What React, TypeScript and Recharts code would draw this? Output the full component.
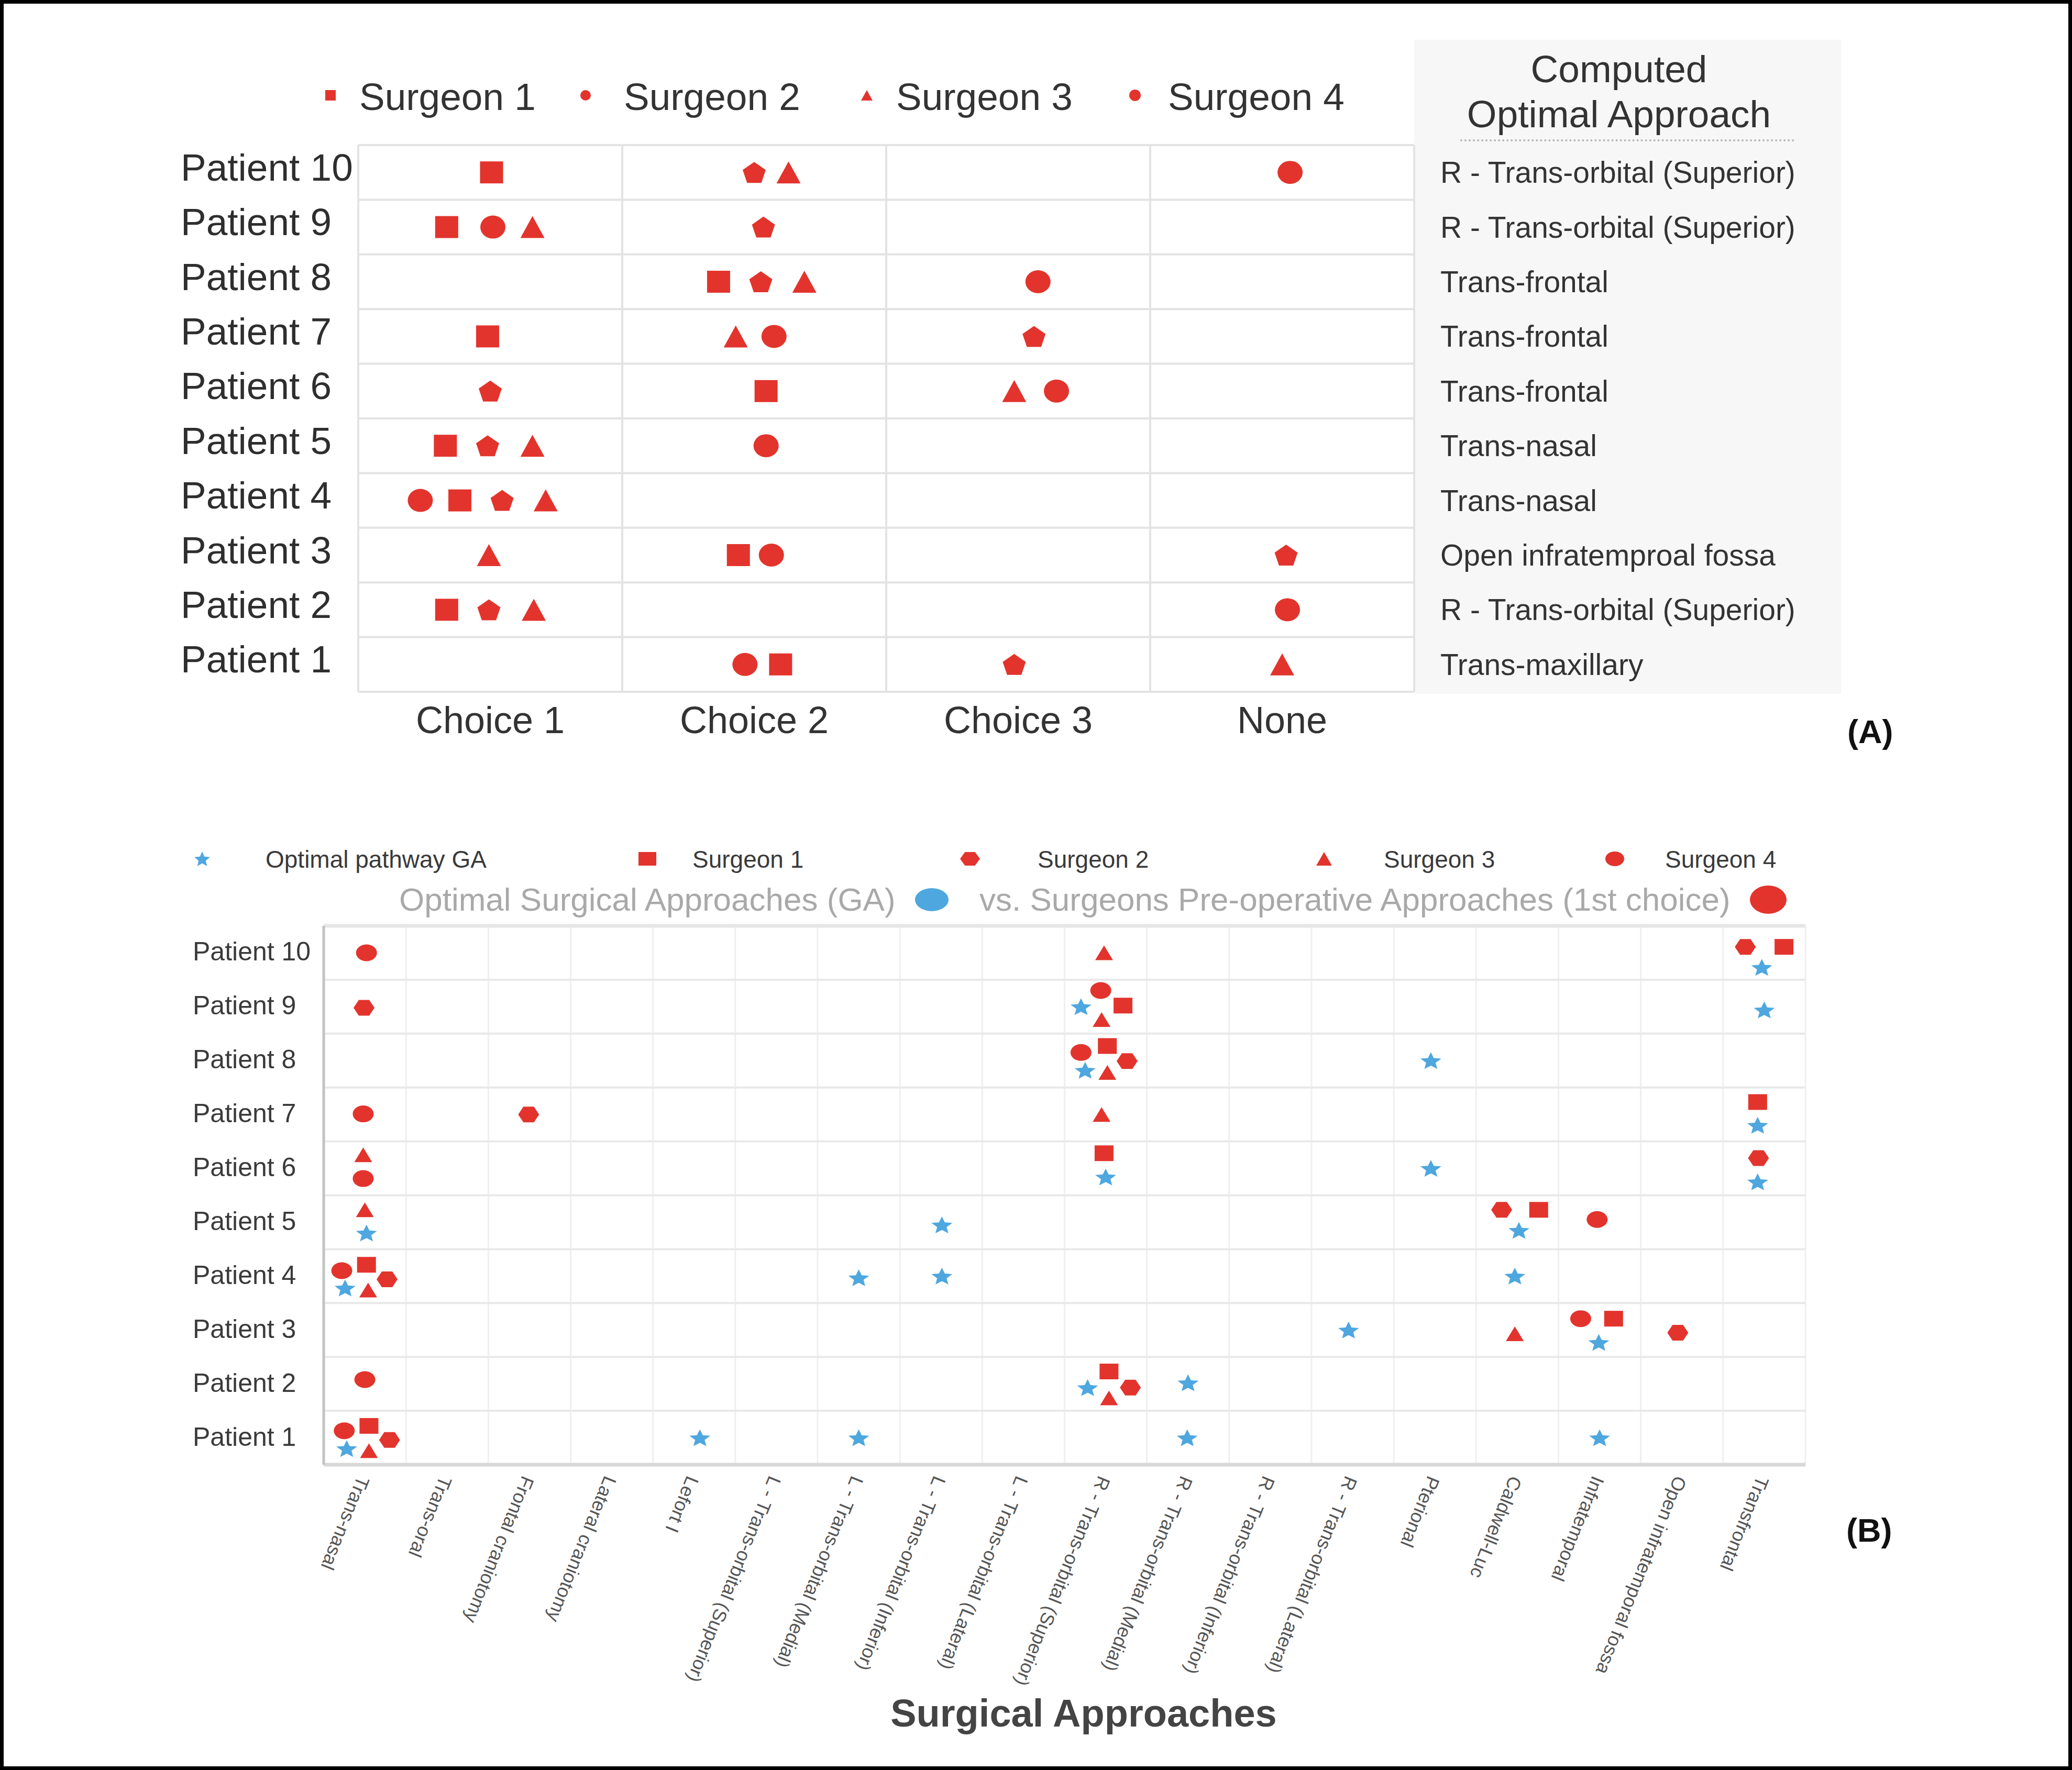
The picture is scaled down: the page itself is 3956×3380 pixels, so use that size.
import React from 'react';
import { ScatterChart, Scatter, XAxis, YAxis, ReferenceLine } from 'recharts';

const FONT = "'Liberation Sans', Arial, Helvetica, sans-serif";
const RED = '#e2342d';
const BLUE = '#4ea7df';

// ---------- Panel A data ----------
const PATIENTS = [1, 2, 3, 4, 5, 6, 7, 8, 9, 10];
const CHOICES = ['Choice 1', 'Choice 2', 'Choice 3', 'None'];
const OPTIMAL_APPROACH = [
  'Trans-maxillary',
  'R - Trans-orbital (Superior)',
  'Open infratemproal fossa',
  'Trans-nasal',
  'Trans-nasal',
  'Trans-frontal',
  'Trans-frontal',
  'Trans-frontal',
  'R - Trans-orbital (Superior)',
  'R - Trans-orbital (Superior)',
];
const SURGEONS = ['Surgeon 1', 'Surgeon 2', 'Surgeon 3', 'Surgeon 4'];

// choice index (0 = Choice 1 ... 3 = None) per patient 1..10, and the jitter inside the cell
const A_CHOICE_S1 = [1, 0, 1, 0, 0, 1, 0, 1, 0, 0];
const A_JITTER_S1 = [0.1, -0.165, -0.06, -0.115, -0.17, 0.045, -0.01, -0.135, -0.165, 0.005];
const A_CHOICE_S2 = [2, 0, 3, 0, 0, 0, 2, 1, 1, 1];
const A_JITTER_S2 = [-0.015, -0.005, 0.015, 0.045, -0.01, 0, 0.06, 0.025, 0.035, 0];
const A_CHOICE_S3 = [3, 0, 0, 0, 0, 2, 1, 1, 0, 1];
const A_JITTER_S3 = [0, 0.165, -0.005, 0.21, 0.16, -0.015, -0.07, 0.19, 0.16, 0.13];
const A_CHOICE_S4 = [1, 3, 1, 0, 1, 2, 1, 2, 0, 3];
const A_JITTER_S4 = [-0.035, 0.02, 0.065, -0.265, 0.045, 0.145, 0.075, 0.075, 0.01, 0.03];

// ---------- Panel B data ----------
const APPROACHES = [
  'Trans-nasal',
  'Trans-oral',
  'Frontal craniotomy',
  'Lateral craniotomy',
  'Lefort I',
  'L - Trans-orbital (Superior)',
  'L - Trans-orbital (Medial)',
  'L - Trans-orbital (Inferior)',
  'L - Trans-orbital (Lateral)',
  'R - Trans-orbital (Superior)',
  'R - Trans-orbital (Medial)',
  'R - Trans-orbital (Inferior)',
  'R - Trans-orbital (Lateral)',
  'Pterional',
  'Caldwell-Luc',
  'Infratemporal',
  'Open infratemporal fossa',
  'Transfrontal',
];

// GA optimal pathways: [patient, approach index, dx, dy]
const GA_POINTS: [number, number, number, number][] = [
  [10, 17, -0.03, -0.27],
  [9, 9, -0.3, 0], [9, 17, 0, -0.06],
  [8, 9, -0.25, -0.18], [8, 13, -0.05, 0],
  [7, 17, -0.08, -0.2],
  [6, 9, 0, -0.16], [6, 13, -0.05, 0], [6, 17, -0.08, -0.25],
  [5, 0, 0.02, -0.2], [5, 7, 0.01, -0.05], [5, 14, 0.02, -0.15],
  [4, 0, -0.24, -0.22], [4, 6, 0, -0.03], [4, 7, 0.01, 0], [4, 14, -0.03, 0],
  [3, 12, -0.05, 0], [3, 15, -0.01, -0.23],
  [2, 9, -0.22, -0.07], [2, 10, 0, 0.02],
  [1, 0, -0.22, -0.2], [1, 4, 0.07, 0], [1, 6, 0, 0], [1, 10, -0.01, 0], [1, 15, 0, 0],
];

// surgeons' 1st choice approach per patient 1..10 with [dx, dy] jitter
const B_APPROACH_S1 = [0, 9, 15, 0, 14, 9, 17, 9, 9, 17];
const B_JITTER_S1 = [[0.05, 0.22], [0.04, 0.23], [0.17, 0.21], [0.02, 0.21], [0.26, 0.23], [-0.02, 0.28], [-0.08, 0.23], [0.02, 0.27], [0.21, 0.02], [0.24, 0.11]];
const B_APPROACH_S2 = [0, 9, 16, 0, 14, 17, 2, 9, 0, 17];
const B_JITTER_S2 = [[0.3, -0.04], [0.3, -0.07], [-0.05, -0.05], [0.27, -0.06], [-0.19, 0.23], [-0.07, 0.19], [-0.01, 0], [0.26, -0.01], [-0.01, -0.02], [-0.23, 0.11]];
const B_APPROACH_S3 = [0, 9, 14, 0, 0, 0, 9, 9, 9, 9];
const B_JITTER_S3 = [[0.05, -0.24], [0.04, -0.26], [-0.03, -0.07], [0.04, -0.26], [0, 0.23], [-0.02, 0.25], [-0.05, 0], [0.02, -0.22], [-0.05, -0.24], [-0.02, 0]];
const B_APPROACH_S4 = [0, 0, 15, 0, 15, 0, 0, 9, 9, 0];
const B_JITTER_S4 = [[-0.25, 0.13], [0, 0.08], [-0.23, 0.21], [-0.28, 0.1], [-0.03, 0.05], [-0.02, -0.19], [-0.02, 0.01], [-0.3, 0.15], [-0.06, 0.3], [0.02, 0]];

type Kind = 'square' | 'circle' | 'triangle' | 'pentagon' | 'hexagon' | 'star';

function polyPoints(kind: Kind, cx: number, cy: number, rx: number, ry: number) {
  const pts: string[] = [];
  if (kind === 'hexagon') {
    for (let i = 0; i < 6; i++) {
      const a = (i * Math.PI) / 3;
      pts.push(`${cx + rx * Math.cos(a)},${cy + (ry * Math.sin(a)) / 0.866}`);
    }
  } else {
    const n = kind === 'star' ? 10 : 5;
    for (let i = 0; i < n; i++) {
      const a = -Math.PI / 2 + (i * 2 * Math.PI) / n;
      const r = kind === 'star' && i % 2 === 1 ? 0.45 : 1;
      pts.push(`${cx + (rx * r * Math.cos(a)) / 0.951},${cy + (ry * (r * Math.sin(a) + 0.0955)) / 0.9045}`);
    }
  }
  return pts.join(' ');
}

function Mark({ kind, cx, cy, w, h, fill }: { kind: Kind; cx?: number; cy?: number; w: number; h: number; fill: string }) {
  if (cx == null || cy == null) return null;
  const rx = w / 2;
  const ry = h / 2;
  if (kind === 'square') return <rect x={cx - rx} y={cy - ry} width={w} height={h} fill={fill} />;
  if (kind === 'circle') return <ellipse cx={cx} cy={cy} rx={rx} ry={ry} fill={fill} />;
  if (kind === 'triangle')
    return <polygon points={`${cx},${cy - ry} ${cx + rx},${cy + ry} ${cx - rx},${cy + ry}`} fill={fill} />;
  return <polygon points={polyPoints(kind, cx, cy, rx, ry)} fill={fill} />;
}

function Symbol({ kind, x, y, w, h, fill }: { kind: Kind; x: number; y: number; w: number; h: number; fill: string }) {
  return (
    <svg
      width={w + 4}
      height={h + 4}
      style={{ position: 'absolute', left: x - w / 2 - 2, top: y - h / 2 - 2, overflow: 'visible' }}
    >
      <Mark kind={kind} cx={w / 2 + 2} cy={h / 2 + 2} w={w} h={h} fill={fill} />
    </svg>
  );
}

function Label({ x, y, size, color = '#333', weight = 400, children, center = false }: any) {
  return (
    <div
      style={{
        position: 'absolute',
        left: x,
        top: y,
        transform: center ? 'translate(-50%, -50%)' : 'translateY(-50%)',
        fontSize: size,
        lineHeight: 1,
        color,
        fontWeight: weight,
        whiteSpace: 'nowrap',
        fontFamily: FONT,
      }}
    >
      {children}
    </div>
  );
}

const A_SERIES = [
  { name: SURGEONS[0], kind: 'square' as Kind, choice: A_CHOICE_S1, jitter: A_JITTER_S1, w: 44, h: 42 },
  { name: SURGEONS[1], kind: 'pentagon' as Kind, choice: A_CHOICE_S2, jitter: A_JITTER_S2, w: 44, h: 40 },
  { name: SURGEONS[2], kind: 'triangle' as Kind, choice: A_CHOICE_S3, jitter: A_JITTER_S3, w: 46, h: 42 },
  { name: SURGEONS[3], kind: 'circle' as Kind, choice: A_CHOICE_S4, jitter: A_JITTER_S4, w: 48, h: 44 },
];

const B_SERIES = [
  { name: SURGEONS[0], kind: 'square' as Kind, approach: B_APPROACH_S1, jitter: B_JITTER_S1, w: 36, h: 30 },
  { name: SURGEONS[1], kind: 'hexagon' as Kind, approach: B_APPROACH_S2, jitter: B_JITTER_S2, w: 40, h: 30 },
  { name: SURGEONS[2], kind: 'triangle' as Kind, approach: B_APPROACH_S3, jitter: B_JITTER_S3, w: 34, h: 28 },
  { name: SURGEONS[3], kind: 'circle' as Kind, approach: B_APPROACH_S4, jitter: B_JITTER_S4, w: 40, h: 32 },
];

const GA_DATA = GA_POINTS.map(([p, a, dx, dy]) => ({ x: a + 0.5 + dx, y: p + dy }));

const ROW_EDGES = [0.5, 1.5, 2.5, 3.5, 4.5, 5.5, 6.5, 7.5, 8.5, 9.5, 10.5];
const A_COL_EDGES = [0, 1, 2, 3, 4];
const B_COL_EDGES = Array.from({ length: 19 }, (_, i) => i);
const A_TICKS = CHOICES.map((_, i) => i + 0.5);
const B_TICKS = APPROACHES.map((_, i) => i + 0.5);

function PatientTickA(props: any) {
  const { y, payload } = props;
  const idx = payload.value - 1;
  return (
    <g>
      <text x={345} y={y - 10} dominantBaseline="central" fontSize={73} fill="#2e2e2e" fontFamily={FONT}>
        {`Patient ${payload.value}`}
      </text>
      <text x={2750} y={y} dominantBaseline="central" fontSize={57} fill="#333" fontFamily={FONT}>
        {OPTIMAL_APPROACH[idx]}
      </text>
    </g>
  );
}

function ChoiceTick(props: any) {
  const { x, y, payload } = props;
  return (
    <text x={x} y={y + 54} textAnchor="middle" dominantBaseline="central" fontSize={72} fill="#333" fontFamily={FONT}>
      {CHOICES[Math.floor(payload.value)]}
    </text>
  );
}

function PatientTickB(props: any) {
  const { y, payload } = props;
  return (
    <text x={368} y={y - 2} dominantBaseline="central" fontSize={50} fill="#3a3a3a" fontFamily={FONT}>
      {`Patient ${payload.value}`}
    </text>
  );
}

function ApproachTick(props: any) {
  const { x, y, payload } = props;
  return (
    <text
      transform={`translate(${x - 2},${y + 24}) rotate(112)`}
      textAnchor="start"
      dominantBaseline="central"
      fontSize={36}
      fill="#555"
      fontFamily={FONT}
    >
      {APPROACHES[Math.floor(payload.value)]}
    </text>
  );
}

function PanelA() {
  return (
    <div style={{ position: 'absolute', left: 0, top: 0 }}>
      <ScatterChart width={3520} height={1450} margin={{ top: 277, right: 820, bottom: 29, left: 344 }}>
        <XAxis
          type="number"
          dataKey="x"
          domain={[0, 4]}
          ticks={A_TICKS}
          interval={0}
          height={100}
          axisLine={false}
          tickLine={false}
          tickSize={0}
          tickMargin={0}
          tick={ChoiceTick}
        />
        <YAxis
          type="number"
          dataKey="y"
          domain={[0.5, 10.5]}
          ticks={PATIENTS}
          interval={0}
          width={340}
          axisLine={false}
          tickLine={false}
          tickSize={0}
          tickMargin={0}
          tick={PatientTickA}
        />
        {A_COL_EDGES.map((v) => (
          <ReferenceLine key={`ax${v}`} x={v} stroke="#e3e3e3" strokeWidth={4} ifOverflow="visible" />
        ))}
        {ROW_EDGES.map((v) => (
          <ReferenceLine key={`ay${v}`} y={v} stroke="#e3e3e3" strokeWidth={4} ifOverflow="visible" />
        ))}
        {A_SERIES.map((s) => (
          <Scatter
            key={s.name}
            name={s.name}
            data={PATIENTS.map((p, i) => ({ x: s.choice[i] + 0.5 + s.jitter[i], y: p }))}
            isAnimationActive={false}
            shape={(p: any) => <Mark kind={s.kind} cx={p.cx} cy={p.cy} w={s.w} h={s.h} fill={RED} />}
          />
        ))}
      </ScatterChart>
    </div>
  );
}

function PanelB() {
  return (
    <div style={{ position: 'absolute', left: 0, top: 1600 }}>
      <ScatterChart width={3700} height={1780} margin={{ top: 168, right: 253, bottom: 63, left: 318 }}>
        <XAxis
          type="number"
          dataKey="x"
          domain={[0, 18]}
          ticks={B_TICKS}
          interval={0}
          height={520}
          axisLine={{ stroke: '#d8d8d8', strokeWidth: 7 }}
          tickLine={false}
          tickSize={0}
          tickMargin={0}
          tick={ApproachTick}
        />
        <YAxis
          type="number"
          dataKey="y"
          domain={[0.5, 10.5]}
          ticks={PATIENTS}
          interval={0}
          width={300}
          axisLine={{ stroke: '#c2c2c2', strokeWidth: 5 }}
          tickLine={false}
          tickSize={0}
          tickMargin={0}
          tick={PatientTickB}
        />
        {B_COL_EDGES.map((v) => (
          <ReferenceLine key={`bx${v}`} x={v} stroke="#efefef" strokeWidth={3} ifOverflow="visible" />
        ))}
        {ROW_EDGES.map((v) => (
          <ReferenceLine key={`by${v}`} y={v} stroke={v === 10.5 ? '#e6e6e6' : '#e9e9e9'} strokeWidth={v === 10.5 ? 7 : 4} ifOverflow="visible" />
        ))}
        <Scatter
          name="Optimal pathway GA"
          data={GA_DATA}
          isAnimationActive={false}
          shape={(p: any) => <Mark kind="star" cx={p.cx} cy={p.cy} w={40} h={32} fill={BLUE} />}
        />
        {B_SERIES.map((s) => (
          <Scatter
            key={s.name}
            name={s.name}
            data={PATIENTS.map((p, i) => ({ x: s.approach[i] + 0.5 + s.jitter[i][0], y: p + s.jitter[i][1] }))}
            isAnimationActive={false}
            shape={(p: any) => <Mark kind={s.kind} cx={p.cx} cy={p.cy} w={s.w} h={s.h} fill={RED} />}
          />
        ))}
      </ScatterChart>
    </div>
  );
}

export default function App() {
  const legendA = [
    { sx: 631, tx: 686, kind: 'square' as Kind, w: 20, h: 20 },
    { sx: 1118, tx: 1191, kind: 'circle' as Kind, w: 20, h: 20 },
    { sx: 1655, tx: 1711, kind: 'triangle' as Kind, w: 22, h: 20 },
    { sx: 2167, tx: 2230, kind: 'circle' as Kind, w: 22, h: 22 },
  ];
  const legendB = [
    { sx: 386, tx: 507, kind: 'star' as Kind, w: 30, h: 28, fill: BLUE, text: 'Optimal pathway GA' },
    { sx: 1236, tx: 1322, kind: 'square' as Kind, w: 34, h: 26, fill: RED, text: SURGEONS[0] },
    { sx: 1852, tx: 1981, kind: 'hexagon' as Kind, w: 38, h: 26, fill: RED, text: SURGEONS[1] },
    { sx: 2528, tx: 2642, kind: 'triangle' as Kind, w: 30, h: 26, fill: RED, text: SURGEONS[2] },
    { sx: 3083, tx: 3179, kind: 'circle' as Kind, w: 36, h: 28, fill: RED, text: SURGEONS[3] },
  ];

  return (
    <div
      style={{
        position: 'absolute',
        left: 0,
        top: 0,
        width: 3956,
        height: 3380,
        background: '#fff',
        overflow: 'hidden',
        fontFamily: FONT,
      }}
    >
      {/* table background for the computed approach */}
      <div style={{ position: 'absolute', left: 2700, top: 76, width: 815, height: 1249, background: '#f7f7f7' }} />
      <Label x={3091} y={131} size={73} center>Computed</Label>
      <Label x={3091} y={217} size={73} center>Optimal Approach</Label>
      <div style={{ position: 'absolute', left: 2788, top: 266, width: 638, borderTop: '4px dotted #b5b5b5' }} />

      <PanelA />
      {legendA.map((l, i) => (
        <React.Fragment key={i}>
          <Symbol kind={l.kind} x={l.sx} y={182} w={l.w} h={l.h} fill={RED} />
          <Label x={l.tx} y={184} size={73}>{SURGEONS[i]}</Label>
        </React.Fragment>
      ))}
      <Label x={3527} y={1397} size={63} weight={700} color="#111">(A)</Label>

      <PanelB />
      {legendB.map((l, i) => (
        <React.Fragment key={i}>
          <Symbol kind={l.kind} x={l.sx} y={1640} w={l.w} h={l.h} fill={l.fill} />
          <Label x={l.tx} y={1641} size={46} color="#3a3a3a">{l.text}</Label>
        </React.Fragment>
      ))}
      <Label x={762} y={1718} size={62} color="#a9a9a9">Optimal Surgical Approaches (GA)</Label>
      <Symbol kind="circle" x={1779} y={1718} w={64} h={44} fill={BLUE} />
      <Label x={1870} y={1718} size={62} color="#a9a9a9">vs. Surgeons Pre-operative Approaches (1st choice)</Label>
      <Symbol kind="circle" x={3376} y={1718} w={70} h={54} fill={RED} />

      <Label x={2069} y={3272} size={74} weight={700} color="#444" center>Surgical Approaches</Label>
      <Label x={3525} y={2922} size={63} weight={700} color="#111">(B)</Label>

      <div style={{ position: 'absolute', left: 0, top: 0, width: 3956, height: 3380, boxSizing: 'border-box', border: '7px solid #000', pointerEvents: 'none' }} />
    </div>
  );
}
